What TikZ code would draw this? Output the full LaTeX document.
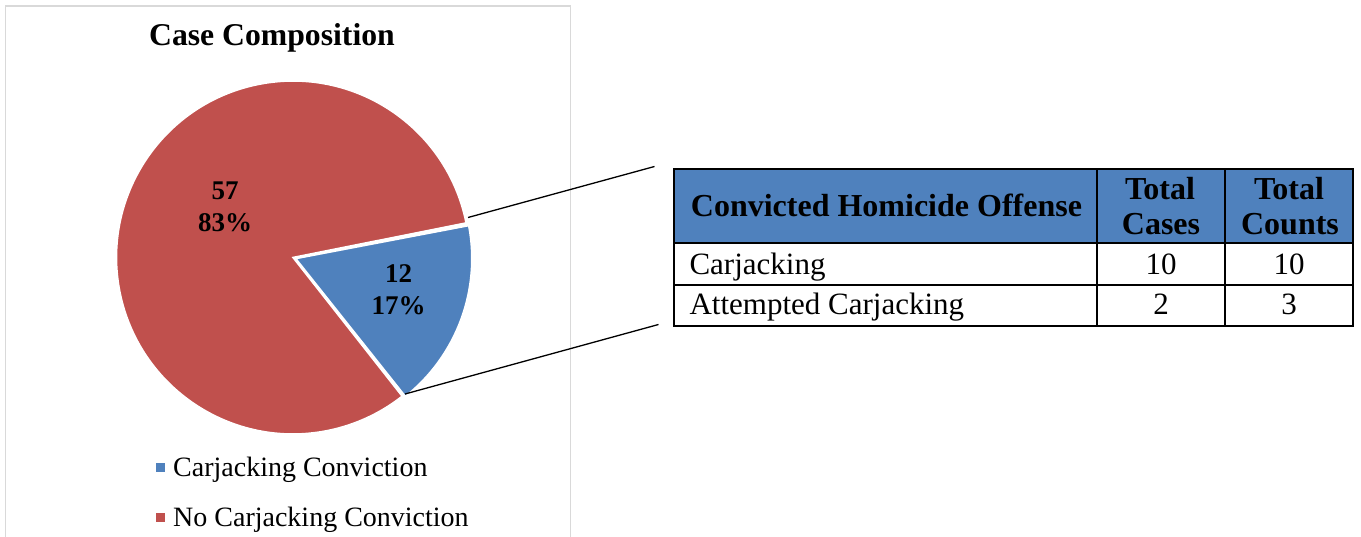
\documentclass[tikz,border=0pt]{standalone}
\usepackage{fontspec}
\setmainfont{Liberation Serif}
\definecolor{pieRed}{HTML}{C0504D}
\definecolor{pieBlue}{HTML}{4F81BD}
\definecolor{frameGray}{HTML}{D9D9D9}
\tikzset{
  slice/.style={draw=white, line width=1.6pt, line join=miter},
  callout/.style={draw=black, line width=1.3pt},
  grid line/.style={draw=black, line width=2pt},
  title text/.style={font=\fontsize{31.7}{36}\selectfont\bfseries, inner sep=0pt},
  pie label/.style={font=\fontsize{27}{32}\selectfont\bfseries, align=center, inner sep=0pt},
  legend text/.style={font=\fontsize{28}{32}\selectfont, inner sep=0pt, anchor=base west},
  head text/.style={font=\fontsize{32}{35.7}\selectfont\bfseries, inner sep=0pt},
  body text/.style={font=\fontsize{31}{36}\selectfont, inner sep=0pt},
  key box/.style={minimum size=9pt, inner sep=0pt},
}
\begin{document}
\begin{tikzpicture}[x=1pt, y=1pt]
\useasboundingbox (0,0) rectangle (1361,-537);
\fill[white] (0,0) rectangle (1361,-537);

% chart frame
\draw[frameGray, line width=1.5pt] (5.5,-545) -- (5.5,-6) -- (570.5,-6) -- (570.5,-545);

% title
\node[title text, anchor=base] (title) at (272,-46) {Case Composition};

% pie: the larger slice, then the pulled-out smaller slice
\fill[pieRed, slice] (293,-257.5) -- ++(11.3:176.5) arc (11.3:308.2:176.5) -- cycle;
\fill[pieBlue, slice] (295.8,-258.6) -- ++(-51.5:176) arc (-51.5:10.8:176) -- cycle;

\node[pie label] (lblRed) at (225,-207) {57\\83\%};
\node[pie label] (lblBlue) at (398.5,-290) {12\\17\%};

% legend
\node[key box, fill=pieBlue] (keyA) at (160.5,-467) {};
\node[legend text] (legA) at (173,-476) {Carjacking Conviction};
\node[key box, fill=pieRed] (keyB) at (160.5,-517) {};
\node[legend text] (legB) at (173,-526) {No Carjacking Conviction};

% table grid
\coordinate (tNW) at (674,-169);
\coordinate (tSE) at (1352.7,-325.7);
\fill[pieBlue] (674,-169) rectangle (1352.7,-243.3);
\draw[grid line] (674,-243.3) -- (1352.7,-243.3);
\draw[grid line] (674,-285) -- (1352.7,-285);
\draw[grid line] (1096.7,-169) -- (1096.7,-325.7);
\draw[grid line] (1225,-169) -- (1225,-325.7);
\draw[grid line] (tNW) rectangle (tSE);

% table text
\node[head text, anchor=base west] (h1) at (690.7,-217) {Convicted Homicide Offense};
\node[head text, anchor=base] (h2a) at (1160,-199.3) {Total};
\node[head text, anchor=base] (h2b) at (1161,-235) {Cases};
\node[head text, anchor=base] (h3a) at (1289,-199.3) {Total};
\node[head text, anchor=base] (h3b) at (1290,-235) {Counts};

\node[body text, anchor=base west] (r1a) at (689.3,-275) {Carjacking};
\node[body text, anchor=base] (r1b) at (1161,-275) {10};
\node[body text, anchor=base] (r1c) at (1289,-275) {10};
\node[body text, anchor=base west] (r2a) at (689.3,-315) {Attempted Carjacking};
\node[body text, anchor=base] (r2b) at (1161,-315) {2};
\node[body text, anchor=base] (r2c) at (1289,-315) {3};

% callout lines from the small slice to the table
\coordinate (cTopA) at (468,-217.5);
\coordinate (cTopB) at (654.5,-166.5);
\coordinate (cBotA) at (405,-394);
\coordinate (cBotB) at (658.5,-324.5);
\draw[callout] (cTopA) -- (cTopB);
\draw[callout] (cBotA) -- (cBotB);
\end{tikzpicture}
\end{document}
